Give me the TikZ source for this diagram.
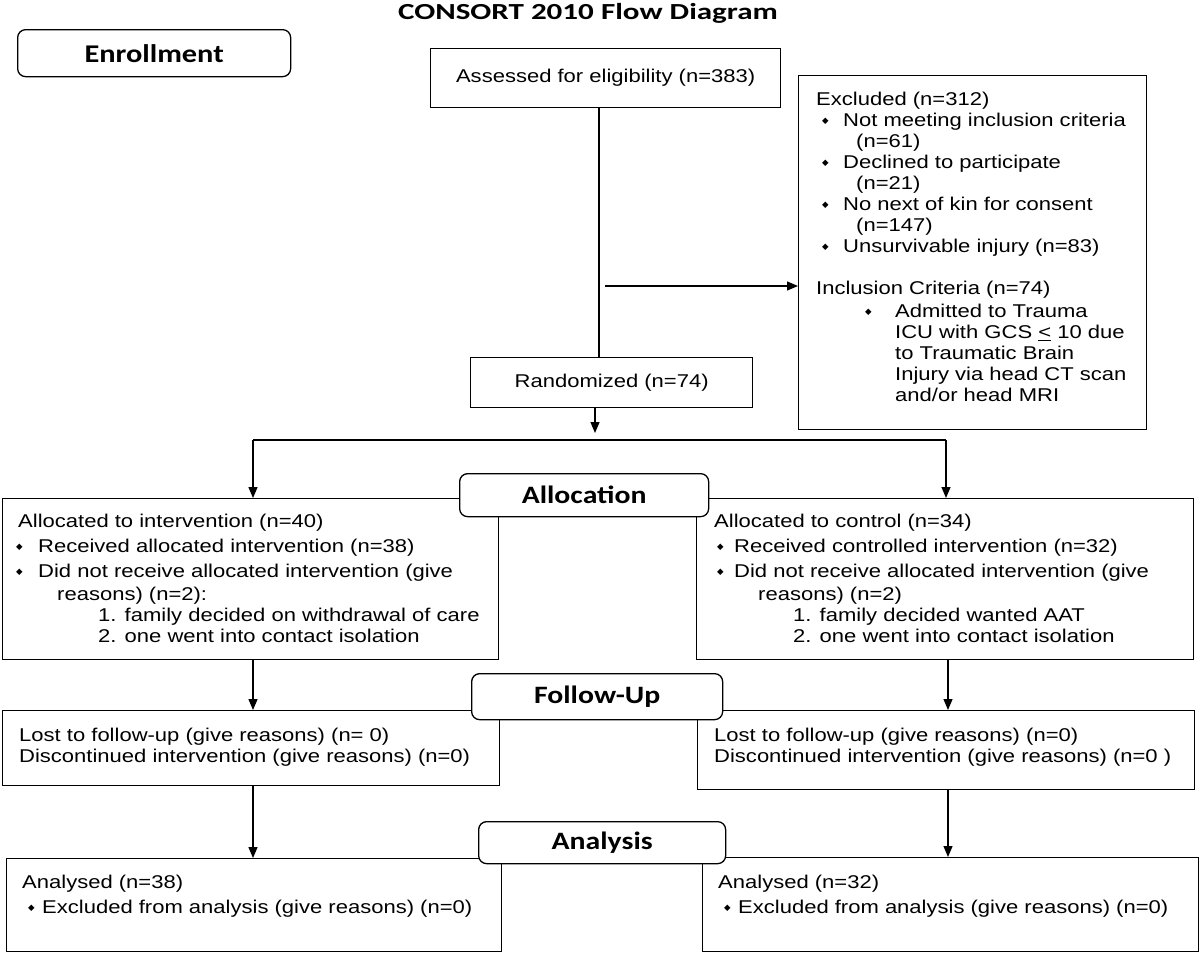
\documentclass[tikz,border=0pt]{standalone}
\usepackage{fontspec}
\setmainfont[FakeStretch=1.19]{Liberation Sans}
\newfontfamily\hdfont[FakeStretch=1.19]{Carlito}
\newfontfamily\ttlfont[FakeStretch=1.35]{Carlito}
\newfontfamily\dejavu{DejaVu Sans}
\usetikzlibrary{arrows.meta}
\newcommand{\bul}{\raisebox{3pt}{\dejavu\fontsize{8.5}{8.5}\selectfont ◆}}
\begin{document}
\begin{tikzpicture}[x=1pt,y=-1pt,
  box/.style={draw, line width=1.3pt, inner sep=0pt, anchor=north west},
  hbox/.style={draw, line width=1.3pt, rounded corners=8pt, fill=white, inner sep=0pt, anchor=north west, font=\hdfont\bfseries\fontsize{25}{25}\selectfont},
  txt/.style={inner sep=0pt, anchor=north west, align=left, font=\fontsize{18.5}{21}\selectfont},
  ln/.style={line width=1.3pt},
  arr/.style={line width=1.3pt, -{Triangle[length=11pt,width=9pt]}}]
\useasboundingbox (0,0) rectangle (1200,953);
\fill[white] (0,0) rectangle (1200,953);

\node[font=\ttlfont\bfseries\fontsize{23}{23}\selectfont, inner sep=0pt] (title) at (588,13) {CONSORT 2010 Flow Diagram};

% main boxes
\node[box, minimum width=350pt, minimum height=59pt, font=\fontsize{18.5}{21}\selectfont] (ass) at (430,48) {Assessed for eligibility (n=383)};
\node[box, minimum width=348pt, minimum height=354pt] (exc) at (798,75) {};
\node[box, minimum width=282pt, minimum height=50pt, font=\fontsize{18.5}{21}\selectfont] (ran) at (470,357) {Randomized (n=74)};
\node[box, minimum width=496pt, minimum height=161pt] (alL) at (2,498) {};
\node[box, minimum width=497pt, minimum height=161pt] (alR) at (696,498) {};
\node[box, minimum width=497pt, minimum height=75pt] (fuL) at (2,710) {};
\node[box, minimum width=497pt, minimum height=79pt] (fuR) at (697,710) {};
\node[box, minimum width=495pt, minimum height=93pt] (anL) at (6,858) {};
\node[box, minimum width=496pt, minimum height=94pt] (anR) at (702,857) {};

% header boxes
\node[hbox, minimum width=273pt, minimum height=47pt, font=\hdfont\bfseries\fontsize{25.5}{25.5}\selectfont] (enr) at (17,29) {Enrollment};
\node[hbox, minimum width=249pt, minimum height=43pt] (alh) at (459,473) {Allocation};
\node[hbox, minimum width=251pt, minimum height=46pt] (fuh) at (471,673) {Follow-Up};
\node[hbox, minimum width=247pt, minimum height=42pt] (anh) at (478,821) {Analysis};

% texts
\node[txt] (exct) at (816,92) {Excluded (n=312)\\
\hspace*{6pt}\makebox[21pt][l]{\bul}Not meeting inclusion criteria\\
\hspace*{40pt}(n=61)\\
\hspace*{6pt}\makebox[21pt][l]{\bul}Declined to participate\\
\hspace*{40pt}(n=21)\\
\hspace*{6pt}\makebox[21pt][l]{\bul}No next of kin for consent\\
\hspace*{40pt}(n=147)\\
\hspace*{6pt}\makebox[21pt][l]{\bul}Unsurvivable injury (n=83)\\[21pt]
Inclusion Criteria (n=74)\\[2pt]
\hspace*{49pt}\makebox[30pt][l]{\bul}Admitted to Trauma\\
\hspace*{79pt}ICU with GCS \underline{<} 10 due\\
\hspace*{79pt}to Traumatic Brain\\
\hspace*{79pt}Injury via head CT scan\\
\hspace*{79pt}and/or head MRI};

\node[txt] (alLt) at (16,514) {\hspace*{2pt}Allocated to intervention (n=40)\\[4pt]
\makebox[22pt][l]{\bul}Received allocated intervention (n=38)\\[4pt]
\makebox[22pt][l]{\bul}Did not receive allocated intervention (give\\[2pt]
\hspace*{41pt}reasons) (n=2):\\
\hspace*{82pt}1. family decided on withdrawal of care\\
\hspace*{82pt}2. one went into contact isolation};

\node[txt] (alRt) at (714,514) {Allocated to control (n=34)\\[4pt]
\hspace*{3pt}\makebox[17pt][l]{\bul}Received controlled intervention (n=32)\\[4pt]
\hspace*{3pt}\makebox[17pt][l]{\bul}Did not receive allocated intervention (give\\[2pt]
\hspace*{44pt}reasons) (n=2)\\
\hspace*{79pt}1. family decided wanted AAT\\
\hspace*{79pt}2. one went into contact isolation};

\node[txt] (fuLt) at (19,728) {Lost to follow-up (give reasons) (n= 0)\\
Discontinued intervention (give reasons) (n=0)};
\node[txt] (fuRt) at (714,728) {Lost to follow-up (give reasons) (n=0)\\
Discontinued intervention (give reasons) (n=0 )};

\node[txt] (anLt) at (22,875) {Analysed (n=38)\\[4pt]
\hspace*{6pt}\makebox[14pt][l]{\bul}Excluded from analysis (give reasons) (n=0)};
\node[txt] (anRt) at (718,875) {Analysed (n=32)\\[4pt]
\hspace*{6pt}\makebox[14pt][l]{\bul}Excluded from analysis (give reasons) (n=0)};

% connectors
\coordinate (v) at (599,0);
\draw[ln] (ass.south -| v) -- (ran.north -| v);
\coordinate (e0) at (605,286);
\draw[arr] (e0) -- (e0 -| exc.west);
\coordinate (rd) at (595,433);
\draw[arr] (ran.south -| rd) -- (rd);
\coordinate (sL) at (253,440);
\coordinate (sR) at (946,440);
\draw[ln] (sL) -- (sR);
\draw[arr] (sL) -- (alL.north -| sL);
\draw[arr] (sR) -- (alR.north -| sR);
\coordinate (cR) at (948,0);
\draw[arr] (alL.south -| sL) -- (fuL.north -| sL);
\draw[arr] (alR.south -| cR) -- (fuR.north -| cR);
\draw[arr] (fuL.south -| sL) -- (anL.north -| sL);
\draw[arr] (fuR.south -| cR) -- (anR.north -| cR);
\end{tikzpicture}
\end{document}
